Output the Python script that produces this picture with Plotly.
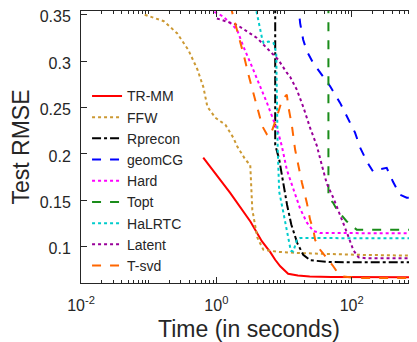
import plotly.graph_objects as go

# ---- data (time in seconds, test RMSE) ----
trmm_t = [0.64, 1.6, 3.2, 4.7, 6.3, 7.4, 8.8, 11.5, 16, 24, 50, 100, 1000]
trmm_v = [0.196, 0.158, 0.127, 0.106, 0.094, 0.086, 0.079, 0.071, 0.069, 0.068, 0.0675, 0.0673, 0.0672]

ffw_t = [0.0875, 0.167, 0.263, 0.386, 0.525, 0.643, 0.736, 0.966, 1.36, 1.78, 2.04, 2.68, 3.17, 3.40, 4.03, 4.94, 7.94, 17.3, 120, 1000]
ffw_v = [0.350, 0.343, 0.330, 0.312, 0.291, 0.272, 0.251, 0.239, 0.2315, 0.2175, 0.208, 0.194, 0.188, 0.140, 0.110, 0.097, 0.0946, 0.0932, 0.0914, 0.0903]

rprecon_t = [7.41, 7.41, 8.49, 9.73, 11.1, 12.8, 15.7, 19.2, 24.3, 48, 1000]
rprecon_v = [0.40, 0.210, 0.194, 0.167, 0.145, 0.124, 0.104, 0.0914, 0.0855, 0.0835, 0.0833]

geomcg_t = [16.0, 17.3, 19.2, 21.8, 27.0, 37.9, 48.0, 67.4, 84.7, 112, 133, 167, 207, 234, 329, 408, 518, 650, 1000]
geomcg_v = [0.365, 0.341, 0.323, 0.3105, 0.298, 0.2835, 0.273, 0.255, 0.240, 0.223, 0.207, 0.192, 0.181, 0.183, 0.185, 0.170, 0.156, 0.1528, 0.1525]

hard_t = [0.78, 1.27, 2.02, 2.50, 3.36, 4.46, 5.60, 6.93, 8.22, 9.32, 11.0, 13.7, 17.3, 21.8, 27.0, 34.2, 1000]
hard_v = [0.356, 0.348, 0.334, 0.316, 0.294, 0.273, 0.255, 0.237, 0.223, 0.208, 0.183, 0.1625, 0.141, 0.126, 0.117, 0.1148, 0.1146]

topt_t = [45.3, 45.3, 53.2, 60.3, 84.7, 119, 1000]
topt_v = [0.40, 0.1528, 0.1474, 0.140, 0.1273, 0.1183, 0.1183]

halrtc_t = [3.76, 4.21, 4.72, 4.99, 5.90, 7.00, 7.67, 8.07, 8.49, 9.73, 11.1, 12.6, 13.7, 15.5, 17.3, 1000]
halrtc_v = [0.36, 0.341, 0.325, 0.3195, 0.321, 0.3195, 0.309, 0.2045, 0.1593, 0.1377, 0.114, 0.0957, 0.0949, 0.1075, 0.1094, 0.1092]

latent_t = [1.02, 2.02, 3.98, 5.60, 8.22, 11.0, 12.3, 15.5, 19.4, 24.3, 30.5, 36.2, 42.9, 53.7, 67.4, 84.7, 106, 126, 167, 1000]
latent_v = [0.346, 0.339, 0.325, 0.314, 0.3015, 0.2875, 0.283, 0.269, 0.250, 0.228, 0.209, 0.188, 0.168, 0.1525, 0.135, 0.1156, 0.0962, 0.0887, 0.0876, 0.0876]

tsvd_t = [1.61, 1.91, 2.18, 2.53, 2.99, 3.55, 4.21, 4.77, 5.60, 6.05, 6.63, 7.85, 9.32, 11.0, 11.6, 13.1, 14.6, 16.4, 18.4, 21.8, 24.3, 27.2, 28.8, 34.2, 45.3, 53.7, 60.3, 75.5, 119, 1000]
tsvd_v = [0.36, 0.341, 0.325, 0.307, 0.285, 0.264, 0.244, 0.230, 0.221, 0.219, 0.225, 0.240, 0.258, 0.264, 0.251, 0.230, 0.2045, 0.186, 0.169, 0.147, 0.129, 0.118, 0.1075, 0.0968, 0.086, 0.0788, 0.0734, 0.068, 0.0663, 0.0663]

series = [
    ("TR-MM", trmm_t, trmm_v, "#ff0000", "solid"),
    ("FFW", ffw_t, ffw_v, "#cc9933", "dot"),
    ("Rprecon", rprecon_t, rprecon_v, "#000000", "dashdot"),
    ("geomCG", geomcg_t, geomcg_v, "#0000ff", "dash"),
    ("Hard", hard_t, hard_v, "#ff00ff", "dot"),
    ("Topt", topt_t, topt_v, "#1a8c1a", "dash"),
    ("HaLRTC", halrtc_t, halrtc_v, "#00cccc", "dot"),
    ("Latent", latent_t, latent_v, "#990099", "dot"),
    ("T-svd", tsvd_t, tsvd_v, "#ff6600", "dash"),
]

x_tickvals = [0.01, 1, 100]
x_ticktext = ["10<sup>-2</sup>", "10<sup>0</sup>", "10<sup>2</sup>"]
y_tickvals = [0.1, 0.15, 0.2, 0.25, 0.3, 0.35]
y_ticktext = ["0.1", "0.15", "0.2", "0.25", "0.3", "0.35"]

minor_vals = [m * 10 ** k for k in range(-2, 3) for m in range(1, 10)] + [1000]

fig = go.Figure()
for name, t, v, color, dash in series:
    fig.add_trace(go.Scatter(x=t, y=v, mode="lines", name=name,
                             line=dict(color=color, dash=dash, width=2)))

# the page body keeps its default 8px margin, so the figure is sized to end at the window edge
font_fam = "Liberation Sans, Arial, sans-serif"
fig.update_layout(
    width=409, height=334,
    margin=dict(l=73, r=0, t=3, b=59, autoexpand=False),
    paper_bgcolor="white", plot_bgcolor="white",
    font=dict(family=font_fam, size=16, color="#262626"),
    showlegend=True,
    legend=dict(x=0.018, y=0.745, xanchor="left", yanchor="top",
                bgcolor="rgba(0,0,0,0)", font=dict(size=14),
                tracegroupgap=0, itemwidth=30),
    xaxis=dict(type="log", range=[-2, 2.965], automargin=False,
               tickmode="array", tickvals=x_tickvals, ticktext=x_ticktext,
               ticks="inside", ticklen=6, tickcolor="#262626",
               ticklabelstandoff=8, ticklabeloverflow="allow",
               showline=True, linecolor="#262626", linewidth=1, mirror="allticks",
               showgrid=False, zeroline=False,
               minor=dict(tickmode="array", tickvals=minor_vals, ticks="inside",
                          ticklen=3, tickcolor="#262626", showgrid=False),
               title=dict(text="Time (in seconds)", font=dict(size=23), standoff=8),
               tickfont=dict(size=16)),
    yaxis=dict(range=[0.061, 0.354], automargin=False,
               tickmode="array", tickvals=y_tickvals, ticktext=y_ticktext,
               ticks="inside", ticklen=6, tickcolor="#262626",
               ticklabelstandoff=6, ticklabeloverflow="allow", ticklabelshift=2,
               showline=True, linecolor="#262626", linewidth=1, mirror=False,
               showgrid=False, zeroline=False,
               title=dict(text="Test RMSE", font=dict(size=23), standoff=6),
               tickfont=dict(size=16)),
)

fig.write_html("out.html")
